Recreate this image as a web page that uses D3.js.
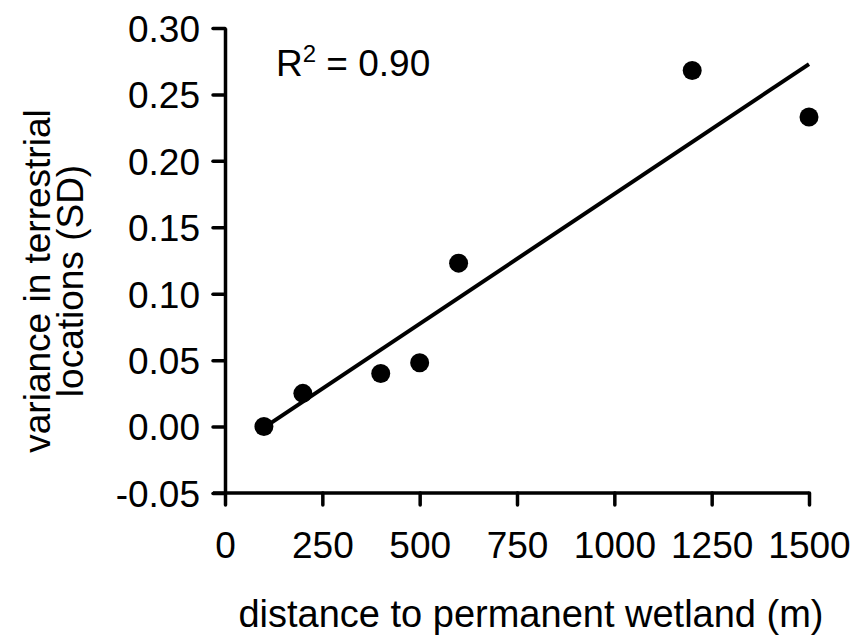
<!DOCTYPE html>
<html>
<head>
<meta charset="utf-8">
<script src="https://cdn.jsdelivr.net/npm/d3@7"></script>
<style>
  body { margin: 0; background: #fff; }
  text { font-family: "Liberation Sans", Arial, sans-serif; fill: #000; }
</style>
</head>
<body>
<div id="chart"></div>
<script>
// distance to permanent wetland (m) vs variance in terrestrial locations (SD)
var distances = [100, 200, 400, 500, 600, 1200, 1500];
var variances = [0.000, 0.025, 0.040, 0.048, 0.123, 0.268, 0.233];
var xTicks = [0, 250, 500, 750, 1000, 1250, 1500];
var yTicks = [-0.05, 0, 0.05, 0.10, 0.15, 0.20, 0.25, 0.30];

var svg = d3.select('#chart')
  .append('svg')
  .attr('width', 856)
  .attr('height', 644);

var x = d3.scaleLinear().domain([0, 1500]).range([225, 809]);
var y = d3.scaleLinear().domain([-0.05, 0.30]).range([493, 28]);

// least squares fit for the trend line
var mx = d3.mean(distances), my = d3.mean(variances);
var sxy = d3.sum(distances, function(d, i){ return (d - mx) * (variances[i] - my); });
var sxx = d3.sum(distances, function(d){ return (d - mx) * (d - mx); });
var slope = sxy / sxx;
var icpt = my - slope * mx;

var xAxis = svg.append('g')
  .attr('transform', 'translate(0,493)')
  .call(d3.axisBottom(x).tickValues(xTicks).tickSize(12).tickPadding(27).tickSizeOuter(0)
    .tickFormat(d3.format('d')));
var yAxis = svg.append('g')
  .attr('transform', 'translate(225,0)')
  .call(d3.axisLeft(y).tickValues(yTicks).tickSize(12).tickPadding(13).tickSizeOuter(0)
    .tickFormat(function(d){ return d3.format('.2f')(d).replace('\u2212', '-'); }));

[xAxis, yAxis].forEach(function(a){
  a.selectAll('path.domain').attr('stroke', '#000').attr('stroke-width', 3.5);
  a.selectAll('.tick line').attr('stroke', '#000').attr('stroke-width', 3.5).attr('stroke-linecap', 'round');
  a.selectAll('.tick text').attr('font-size', 37).attr('font-family', '"Liberation Sans", Arial, sans-serif').attr('fill', '#000');
});
// x axis line runs out to the left tick
xAxis.select('path.domain').attr('d', 'M' + (225 - 12) + ',0H' + x(1500));
yAxis.selectAll('.tick text').attr('dy', '0.36em');

svg.append('line')
  .attr('x1', x(100)).attr('y1', y(icpt + slope * 100))
  .attr('x2', x(1500)).attr('y2', y(icpt + slope * 1500))
  .attr('stroke', '#000')
  .attr('stroke-width', 4);

svg.selectAll('circle.pt')
  .data(distances)
  .enter()
    .append('circle')
    .classed('pt', true)
    .attr('cx', function(d){ return x(d); })
    .attr('cy', function(d, i){ return y(variances[i]); })
    .attr('r', 9.5)
    .attr('fill', '#000');

var r2 = svg.append('text')
  .attr('x', 276)
  .attr('y', 76)
  .attr('font-size', 37);
r2.append('tspan').text('R');
r2.append('tspan').attr('font-size', 24).attr('dy', -14).text('2');
r2.append('tspan').attr('dy', 14).text(' = 0.90');

svg.append('text')
  .attr('x', (225 + 809) / 2 + 14)
  .attr('y', 627)
  .attr('text-anchor', 'middle')
  .attr('font-size', 38)
  .text('distance to permanent wetland (m)');

var yTitle = svg.append('text')
  .attr('transform', 'translate(50,281) rotate(-90)')
  .attr('text-anchor', 'middle')
  .attr('font-size', 37);
yTitle.append('tspan').attr('x', 0).attr('y', 0).text('variance in terrestrial');
yTitle.append('tspan').attr('x', 0).attr('y', 33).text('locations (SD)');
</script>
</body>
</html>
